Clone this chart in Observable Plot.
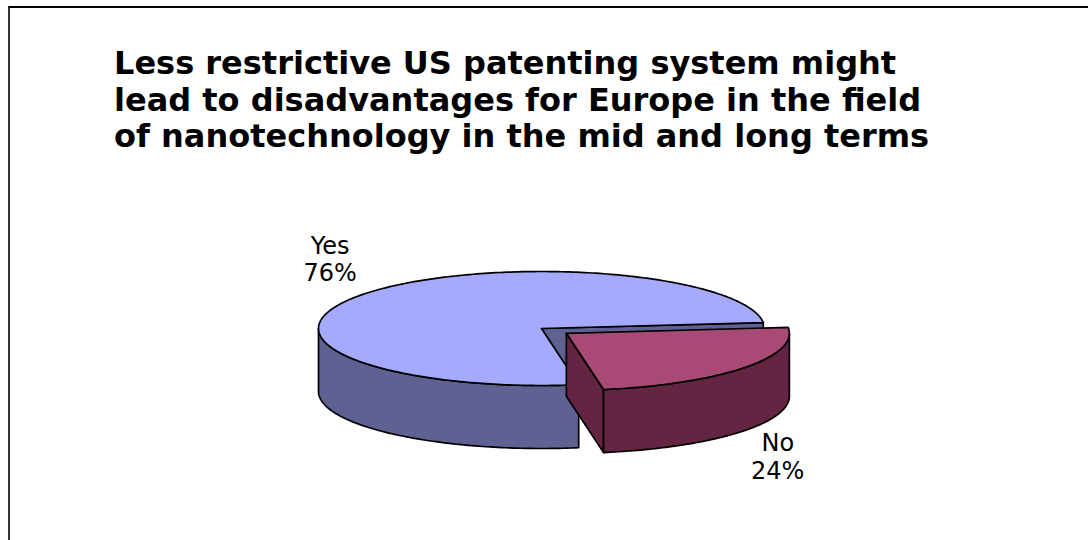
<!DOCTYPE html>
<html>
<head>
<meta charset="utf-8">
<script src="https://cdn.jsdelivr.net/npm/d3@7"></script>
<script src="https://cdn.jsdelivr.net/npm/@observablehq/plot@0.6"></script>
<style>
  html, body { margin: 0; padding: 0; background: #fff; }
  #wrap { position: relative; width: 1088px; height: 540px; overflow: hidden; background: #fff; }
  #frame { position: absolute; left: 8px; top: 6px; right: -4px; bottom: -4px;
           border-top: 2px solid #000; border-left: 2px solid #333; }
  #chart { position: absolute; left: 0; top: 0; }
  #title { position: absolute; left: 114px; top: 45px; font-family: "DejaVu Sans", Verdana, sans-serif;
           font-weight: bold; font-size: 32px; line-height: 36.5px; color: #000; white-space: nowrap; }
</style>
</head>
<body>
<div id="wrap">
  <div id="frame"></div>
  <div id="chart"></div>
  <div id="title">Less restrictive US patenting system might<br>lead to disadvantages for Europe in the field<br>of nanotechnology in the mid and long terms</div>
</div>
<script>
// ---- data ----
const categories = ["Yes", "No"];
const values = [76, 24];
const percentLabels = ["76%", "24%"];

// ---- geometry / style ----
const W = 1088, H = 540;
const CX = 541, CY = 328, RX = 223, RY = 57, DEPTH = 63;
const START = -6;          // degrees, where the first drawn slice begins (clockwise on screen)
const EXPLODE = 0.14;      // offset of the exploded slice, in radius units
const explodedCat = "No";
const topFill = {Yes: "#a6aaff", No: "#a94a76"};
const sideFill = {Yes: "#5f6192", No: "#632541"};
const D = DEPTH / RY;
const rad = a => a * Math.PI / 180;

// build slices: go clockwise from START through the categories in reverse order
const total = d3.sum(values);
let a = START;
const slices = [];
for (let i = categories.length - 1; i >= 0; i--) {
  const span = values[i] / total * 360;
  const a0 = a, a1 = a + span;
  const mid = (a0 + a1) / 2;
  const e = categories[i] === explodedCat ? EXPLODE : 0;
  slices.push({cat: categories[i], label: percentLabels[i], a0, a1, mid,
               c: {x: e * Math.cos(rad(mid)), y: e * Math.sin(rad(mid))}});
  a = a1;
}

function rim(c, ang, dy = 0) { return {x: c.x + Math.cos(rad(ang)), y: c.y + Math.sin(rad(ang)) + dy}; }
function arc(c, from, to, dy = 0) {
  const n = Math.max(2, Math.ceil(Math.abs(to - from) / 1));
  return d3.range(n + 1).map(k => rim(c, from + (to - from) * k / n, dy));
}

const faces = [];
// draw non-exploded first, exploded last
const order = slices.slice().sort((p, q) => (p.cat === explodedCat) - (q.cat === explodedCat));
for (const s of order) {
  const {c, a0, a1} = s;
  const cb = {x: c.x, y: c.y + D};
  // flat cut walls
  if (Math.cos(rad(a0)) < 0) {
    const r = rim(c, a0), rb = rim(c, a0, D);
    faces.push({fill: sideFill[s.cat], pts: [c, r, rb, cb, c]});
  }
  if (Math.cos(rad(a1)) > 0) {
    const r = rim(c, a1), rb = rim(c, a1, D);
    faces.push({fill: sideFill[s.cat], pts: [c, r, rb, cb, c]});
  }
  // curved outer wall (front half: 0..180 deg)
  for (const k of [-360, 0, 360]) {
    const lo = Math.max(a0, k), hi = Math.min(a1, k + 180);
    if (lo < hi) {
      const top = arc(c, lo, hi), bot = arc(c, hi, lo, D);
      faces.push({fill: sideFill[s.cat], pts: [...top, ...bot, top[0]]});
    }
  }
  // top face
  faces.push({fill: topFill[s.cat], pts: [c, ...arc(c, a0, a1), c]});
}

const labelData = slices.map(s => {
  const sn = Math.sin(rad(s.mid)), cs = Math.cos(rad(s.mid));
  return {
    text: s.cat + "\n" + s.label,
    x: s.c.x + 1.19 * cs,
    y: s.c.y + (sn > 0 ? 1.74 * sn + D : 2.03 * sn)
  };
});

const marks = faces.map(f => Plot.line(f.pts, {
  x: "x", y: "y", fill: f.fill, stroke: "#000", strokeWidth: 1.7,
  strokeLinejoin: "round", curve: "linear"
}));
marks.push(Plot.text(labelData, {
  x: "x", y: "y", text: "text", fontSize: 24, lineHeight: 1.13,
  fill: "#000", fontFamily: "DejaVu Sans, Verdana, sans-serif"
}));

const chart = Plot.plot({
  width: W, height: H, margin: 0,
  x: {domain: [-CX / RX, (W - CX) / RX], range: [0, W], axis: null},
  y: {domain: [-CY / RY, (H - CY) / RY], range: [0, H], axis: null},
  style: {background: "transparent", overflow: "visible"},
  marks
});
document.getElementById("chart").appendChild(chart);
</script>
</body>
</html>
